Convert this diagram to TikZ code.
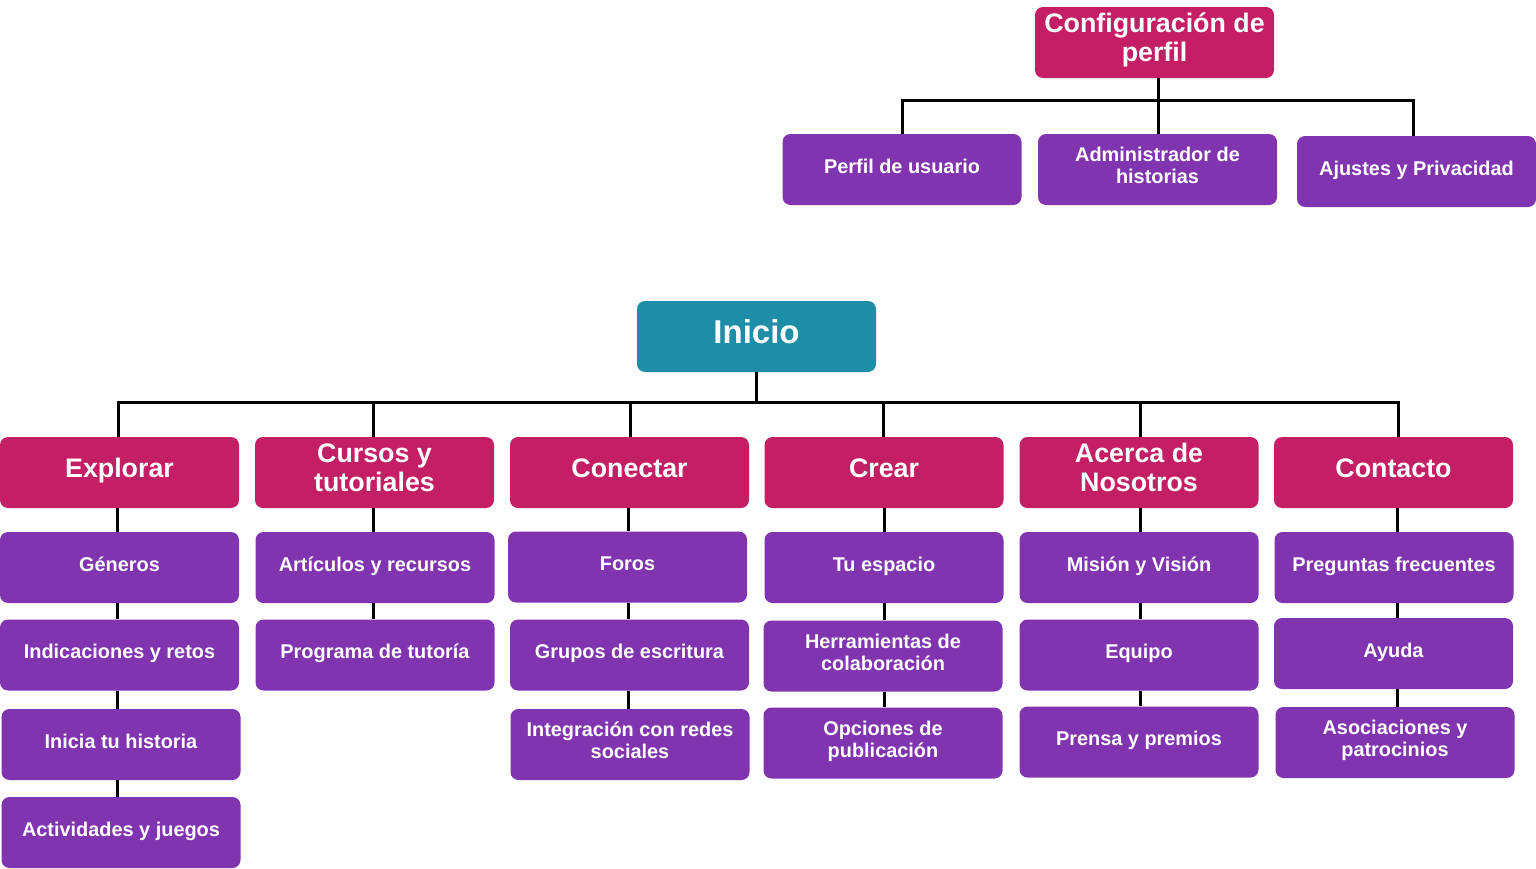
\documentclass[tikz,border=0pt]{standalone}
\usepackage{fontspec}
\setmainfont{Liberation Sans}
\definecolor{mag}{HTML}{C41E64}
\definecolor{pur}{HTML}{8134B0}
\definecolor{tea}{HTML}{1D8DA8}
\tikzset{
  box/.style={rounded corners=4pt, minimum width=119.5pt, minimum height=35.5pt, align=center, text=white, inner sep=0pt,
    execute at begin node={\rule{0pt}{0.8em}},
    execute at end node={\rule[-0.4em]{0pt}{0.4em}}},
  hbox/.style={box, fill=mag, font=\bfseries\fontsize{13.4}{14.5}\selectfont},
  cbox/.style={box, fill=pur, font=\bfseries\fontsize{9.95}{11}\selectfont},
  ibox/.style={box, fill=tea, font=\bfseries\fontsize{16.5}{18}\selectfont},
  conn/.style={line width=1.5pt, black}
}
\begin{document}
\begin{tikzpicture}[x=0.5pt,y=-0.5pt]
\useasboundingbox (0,0) rectangle (1536,868);
% top tree
\node[hbox] (cfg) at (1154.5,42.5) {Configuración de\\perfil};
\node[cbox] (pu) at (902,169.5) {Perfil de usuario};
\node[cbox] (adm) at (1157.5,169.5) {Administrador de\\historias};
\node[cbox] (aju) at (1416.5,171.5) {Ajustes y Privacidad};
\coordinate (busC) at (1158,100);
\draw[conn] (cfg.south -| busC) -- (busC);
\draw[conn] (pu.north) |- (busC);
\draw[conn] (aju.north -| 1413,0) |- (busC);
\draw[conn] (busC) -- (adm.north -| busC);
% main tree
\node[ibox] (ini) at (756.5,336.5) {Inicio};
\node[hbox] (exp) at (119.5,472.5) {Explorar};
\node[hbox] (cur) at (374.5,472.5) {Cursos y\\tutoriales};
\node[hbox] (con) at (629.5,472.5) {Conectar};
\node[hbox] (cre) at (884,472.5) {Crear};
\node[hbox] (ace) at (1139,472.5) {Acerca de\\Nosotros};
\node[hbox] (cnt) at (1393.5,472.5) {Contacto};
\coordinate (busI) at (756,402);
\draw[conn] (ini.south -| busI) -- (busI);
\foreach \n/\x in {exp/118,cur/373,con/630,cre/883,ace/1140,cnt/1398}{
  \draw[conn] (\n.north -| \x,0) |- (busI);
}
% Explorar column
\node[cbox] (gen) at (119.5,567.5) {Géneros};
\node[cbox] (ind) at (119.5,655) {Indicaciones y retos};
\node[cbox] (inh) at (121,744.5) {Inicia tu historia};
\node[cbox] (act) at (121,832.5) {Actividades y juegos};
% Cursos column
\node[cbox] (art) at (375,567.5) {Artículos y recursos};
\node[cbox] (pro) at (375,655) {Programa de tutoría};
% Conectar column
\node[cbox] (for) at (627.5,567) {Foros};
\node[cbox] (gru) at (629.5,655) {Grupos de escritura};
\node[cbox] (int) at (630,744.5) {Integración con redes\\sociales};
% Crear column
\node[cbox] (tue) at (884,567.5) {Tu espacio};
\node[cbox] (her) at (883,656) {Herramientas de\\colaboración};
\node[cbox] (opc) at (883,743) {Opciones de\\publicación};
% Acerca column
\node[cbox] (mis) at (1139,567.5) {Misión y Visión};
\node[cbox] (equ) at (1139,655) {Equipo};
\node[cbox] (pre) at (1139,742) {Prensa y premios};
% Contacto column
\node[cbox] (pfr) at (1394,567.5) {Preguntas frecuentes};
\node[cbox] (ayu) at (1393.5,653.5) {Ayuda};
\node[cbox] (aso) at (1395,742.5) {Asociaciones y\\patrocinios};
% column connectors
\foreach \a/\b/\x in {exp/gen/117, gen/ind/117, ind/inh/117, inh/act/117,
  cur/art/373, art/pro/373,
  con/for/628, for/gru/628, gru/int/628,
  cre/tue/884, tue/her/884, her/opc/884,
  ace/mis/1140, mis/equ/1140, equ/pre/1140,
  cnt/pfr/1397, pfr/ayu/1397, ayu/aso/1397}{
  \draw[conn] (\a.south -| \x,0) -- (\b.north -| \x,0);
}
\end{tikzpicture}
\end{document}
